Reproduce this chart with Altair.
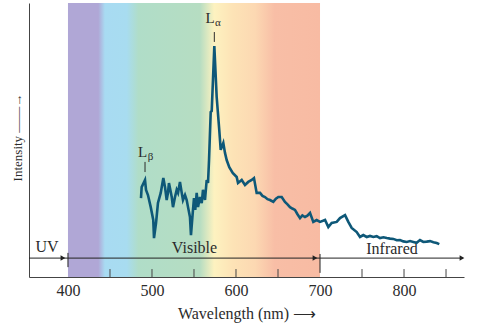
import altair as alt
import pandas as pd

# ---------------- data ----------------
# Emission spectrum (wavelength in nm, intensity in arbitrary units 0-100)
wavelength = [486.9, 487.7, 491.7, 492.9, 495.2, 498.5, 501.5, 502.4, 504.8, 507.1,
              510.4, 513.5, 515.5, 517.5, 519.0, 520.2, 523.5, 525.0, 527.4, 529.4,
              531.0, 533.3, 535.4, 536.9, 539.3, 541.3, 542.9, 545.2, 546.4, 548.5,
              550.0, 551.5, 553.2, 554.8, 557.1, 559.2, 560.7, 563.1, 565.1, 566.7,
              567.9, 569.9, 571.1, 574.2, 577.0, 580.1, 581.8, 584.9, 586.9, 588.9,
              592.0, 596.1, 600.8, 602.4, 606.8, 610.7, 614.6, 618.7, 621.4, 624.6,
              628.6, 631.5, 634.5, 637.5, 640.5, 644.4, 647.5, 650.4, 654.4, 658.3,
              661.0, 664.3, 667.0, 670.2, 673.0, 676.2, 679.0, 682.1, 685.0, 688.1,
              692.0, 696.0, 700.0, 706.0, 709.9, 713.9, 719.9, 723.8, 729.8, 733.7,
              737.7, 743.7, 747.6, 751.5, 755.6, 759.5, 763.5, 767.5, 771.4, 775.5,
              779.4, 783.4, 787.3, 791.3, 795.2, 799.2, 803.2, 807.2, 811.1, 815.0,
              819.0, 823.0, 827.0, 831.0, 835.0, 838.9, 842.0]
intensity = [28.8, 32.8, 35.4, 31.8, 29.9, 25.5, 20.8, 14.2, 19.7, 27.0,
             30.7, 36.1, 32.8, 28.1, 30.7, 34.3, 29.2, 25.5, 29.2, 31.8,
             30.7, 34.7, 30.7, 28.1, 29.9, 28.1, 25.5, 21.9, 15.3, 23.4,
             28.8, 24.5, 30.7, 25.5, 29.2, 27.0, 31.8, 28.1, 35.4, 34.3,
             42.7, 60.2, 60.6, 84.3, 65.7, 53.6, 46.4, 48.9, 45.3, 42.7,
             40.1, 38.0, 36.5, 34.3, 35.4, 33.6, 34.7, 35.4, 36.1, 30.7,
             30.7, 29.6, 29.2, 28.4, 28.1, 27.4, 28.6, 29.2, 29.2, 27.4,
             26.6, 25.5, 25.0, 24.5, 23.0, 21.5, 22.5, 21.9, 22.4, 23.4,
             20.1, 20.8, 20.1, 20.8, 18.2, 19.7, 20.1, 21.5, 22.6, 20.1,
             17.9, 16.4, 14.6, 15.3, 14.6, 15.0, 14.6, 14.9, 14.2, 14.5,
             14.2, 14.0, 13.9, 13.4, 13.5, 13.0, 12.8, 13.1, 12.8, 12.5,
             13.5, 12.8, 12.9, 13.1, 12.7, 12.4, 12.0]

# Visible band and its colour stops (wavelength in nm)
band_start = [400]
band_end = [700]
band_stop_wl = [400, 436, 444, 470, 484, 557, 574, 596, 623, 646, 700]
band_stop_color = ["#b0a7d6", "#b0a7d6", "#a8dbf2", "#a8dcf0", "#b0ddc8", "#b6ddc2",
                   "#fdf2c0", "#fde3b6", "#fcd8b2", "#f8bea6", "#f8bba3"]

# Region labels
region_names = ["UV", "Visible", "Infrared"]
region_wl = [375, 550.6, 785.7]
region_y = [10.9, 10.6, 10.2]

# Boundaries and arrows of the region bar
region_bounds = [400, 700]
arrow_level = [6.9]
arrow_tips = [394, 694, 869]

# Minor tick values on the wavelength axis
tick_values = [450, 500, 550, 600, 650, 750, 800, 850]
label_values = [400, 500, 600, 700, 800]

# Peak labels
peak_main = ["L", "L"]
peak_sub = ["α", "β"]
peak_label_wl = [569.0, 488.9]
peak_label_y = [94.7, 45.6]
peak_tick_wl = [574.2, 491.7]
peak_tick_top = [89.4, 42.0]
peak_tick_bottom = [85.8, 38.3]

# ---------------- chart ----------------
FONT = "Liberation Serif"
TXT = "#2b2b2b"
LINE = "#0e5878"

X_MIN, X_MAX = 353.6, 871.4
xs = alt.Scale(domain=[X_MIN, X_MAX], nice=False, zero=False)
ys = alt.Scale(domain=[0, 100], nice=False, zero=False)

xa = alt.Axis(values=label_values, ticks=False, tickSize=0, grid=False,
              domainColor="#444", domainWidth=1, labelFont=FONT, labelFontSize=16,
              labelColor=TXT, labelPadding=13, labelBaseline="middle",
              title="Wavelength (nm)  ⟶", titleFont=FONT, titleFontSize=16,
              titleFontWeight="normal", titleColor=TXT, titleX=217.5, titleY=36,
              titleBaseline="middle", titleAlign="center")
ya = alt.Axis(ticks=False, labels=False, grid=False, domainColor="#444", domainWidth=1,
              title="Intensity ——→", titleFont=FONT, titleFontSize=13,
              titleFontWeight="normal", titleColor=TXT, titleX=-12, titleY=134,
              titleAngle=-90, titleAlign="center", titleBaseline="middle")


def X(f):
    return alt.X(f, type="quantitative", scale=xs, axis=xa)


def Y(f):
    return alt.Y(f, type="quantitative", scale=ys, axis=ya)


band_df = pd.DataFrame({"x": band_start, "x2": band_end, "y": [0], "y2": [100]})
span = band_end[0] - band_start[0]
stops = [alt.GradientStop(color=c, offset=(w - band_start[0]) / span)
         for w, c in zip(band_stop_wl, band_stop_color)]
band = alt.Chart(band_df).mark_rect(
    color=alt.LinearGradient(gradient="linear", stops=stops, x1=0, x2=1, y1=0, y2=0)
).encode(x=X("x"), x2="x2", y=Y("y"), y2="y2")

tick_df = pd.DataFrame({"x": tick_values, "y": [0] * len(tick_values),
                        "y2": [2.9] * len(tick_values)})
ticks = alt.Chart(tick_df).mark_rule(color="#444", strokeWidth=1).encode(
    x=X("x"), y=Y("y"), y2="y2")

bar_df = pd.DataFrame({"x": [X_MIN], "x2": [X_MAX - 1.5], "y": arrow_level})
bar = alt.Chart(bar_df).mark_rule(color="#222", strokeWidth=1).encode(
    x=X("x"), x2="x2", y=Y("y"))

bound_df = pd.DataFrame({"x": region_bounds, "y": [3.6, 1.5], "y2": [8.8, 8.4]})
bounds = alt.Chart(bound_df).mark_rule(color="#222", strokeWidth=1).encode(
    x=X("x"), y=Y("y"), y2="y2")

head_df = pd.DataFrame({"x": arrow_tips, "y": arrow_level * len(arrow_tips)})
heads = alt.Chart(head_df).mark_point(shape="triangle-right", filled=True, size=30,
                                      color="#222", opacity=1).encode(x=X("x"), y=Y("y"))

reg_df = pd.DataFrame({"name": region_names, "x": region_wl, "y": region_y})
regions = alt.Chart(reg_df).mark_text(font=FONT, fontSize=16, color=TXT,
                                      baseline="middle", align="center").encode(
    x=X("x"), y=Y("y"), text="name")

spec_df = pd.DataFrame({"wl": wavelength, "I": intensity})
spectrum = alt.Chart(spec_df).mark_line(color=LINE, strokeWidth=2.6,
                                        strokeJoin="miter").encode(
    x=X("wl"), y=Y("I"), order="wl")

plab_df = pd.DataFrame({"main": peak_main, "sub": peak_sub,
                        "x": peak_label_wl, "y": peak_label_y})
pmain = alt.Chart(plab_df).mark_text(font=FONT, fontSize=15, color=TXT,
                                     baseline="middle", align="center").encode(
    x=X("x"), y=Y("y"), text="main")
psub = alt.Chart(plab_df).mark_text(font=FONT, fontSize=11, color=TXT,
                                    baseline="middle", align="center", dx=8, dy=5).encode(
    x=X("x"), y=Y("y"), text="sub")

ptick_df = pd.DataFrame({"x": peak_tick_wl, "y": peak_tick_bottom, "y2": peak_tick_top})
pticks = alt.Chart(ptick_df).mark_rule(color=TXT, strokeWidth=1).encode(
    x=X("x"), y=Y("y"), y2="y2")

chart = alt.layer(band, ticks, bar, bounds, heads, regions, spectrum, pmain, psub,
                  pticks).properties(
    width=435, height=274,
    autosize=alt.AutoSizeParams(type="none"),
    padding={"left": 29, "top": 3, "right": 16, "bottom": 48},
    background="white",
).configure_view(stroke=None)

chart.save("out.html", embed_options={"renderer": "svg", "actions": False})
